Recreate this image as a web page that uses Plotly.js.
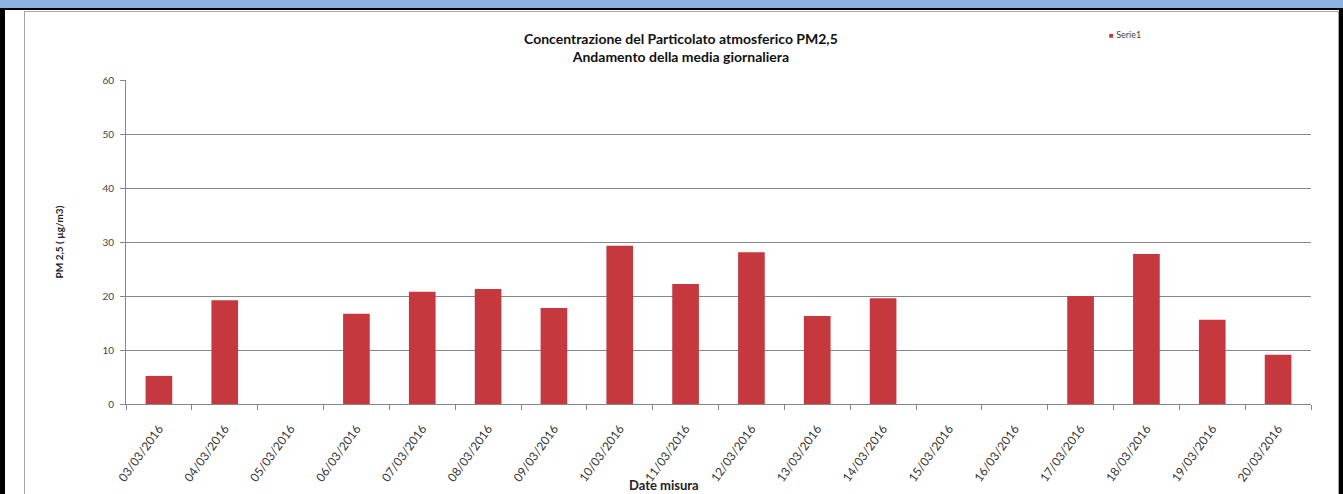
<!DOCTYPE html>
<html>
<head>
<meta charset="utf-8">
<script src="https://cdn.plot.ly/plotly-3.0.1.min.js"></script>
<style>
  html, body { margin: 0; padding: 0; width: 1343px; height: 494px; overflow: hidden; background: #fff; }
  .blk { position: absolute; }
  #chart { position: absolute; left: 0; top: 0; width: 1343px; height: 494px; }
</style>
</head>
<body>
<div class="blk" style="left:0;top:0;width:1343px;height:8px;background:#8DB3E2;"></div>
<div class="blk" style="left:0;top:8px;width:1343px;height:2px;background:#000;"></div>
<div class="blk" style="left:0;top:8px;width:5px;height:486px;background:#000;"></div>
<div class="blk" style="left:1339px;top:8px;width:4px;height:486px;background:#000;"></div>
<div class="blk" style="left:24px;top:11px;width:1313px;height:500px;border:1px solid #A6A6A6;"></div>
<div id="chart"></div>
<script>
const dates = ["03/03/2016","04/03/2016","05/03/2016","06/03/2016","07/03/2016","08/03/2016",
               "09/03/2016","10/03/2016","11/03/2016","12/03/2016","13/03/2016","14/03/2016",
               "15/03/2016","16/03/2016","17/03/2016","18/03/2016","19/03/2016","20/03/2016"];
const serie1 = [5.2, 19.2, null, 16.7, 20.8, 21.3, 17.8, 29.3, 22.2, 28.1, 16.3, 19.6,
                null, null, 20.0, 27.8, 15.6, 9.1];
const yTicks = [0, 10, 20, 30, 40, 50, 60];
const seriesName = 'Serie1';
const barColor = '#C4383E';

const trace = {
  type: 'bar',
  x: dates,
  y: serie1,
  name: seriesName,
  marker: { color: barColor, line: { width: 0 } },
  hoverinfo: 'x+y'
};

const layout = {
  width: 1343, height: 494,
  margin: { l: 126, r: 32, t: 80, b: 90 },
  paper_bgcolor: 'rgba(0,0,0,0)',
  plot_bgcolor: 'rgba(0,0,0,0)',
  bargap: 0.595,
  font: { family: 'Lato, "Open Sans", sans-serif', color: '#333' },
  title: {
    text: '<b>Concentrazione del Particolato atmosferico PM2,5</b><br><b>Andamento della media giornaliera</b>',
    font: { family: 'Lato, sans-serif', size: 14, color: '#111' },
    x: 0.507, xref: 'container', xanchor: 'center',
    y: 1 - 44/494, yref: 'container', yanchor: 'top'
  },
  xaxis: {
    type: 'category',
    categoryorder: 'array', categoryarray: dates,
    tickangle: -54,
    tickfont: { size: 12, color: '#333' },
    ticklabelstandoff: 12,
    ticks: 'outside', ticklen: 5, tickcolor: '#868686', tickson: 'boundaries',
    showline: true, linecolor: '#868686', linewidth: 1,
    showgrid: false, automargin: false, fixedrange: true
  },
  yaxis: {
    range: [0, 60],
    tickvals: yTicks,
    tickfont: { size: 10, color: '#444' },
    ticklabelstandoff: 4,
    ticks: 'outside', ticklen: 5, tickcolor: '#868686',
    showline: true, linecolor: '#868686', linewidth: 1,
    showgrid: true, gridcolor: '#868686', gridwidth: 1,
    zeroline: false, automargin: false, fixedrange: true,
    title: { text: '<b>PM 2,5 ( µg/m3)</b>', font: { size: 10, color: '#222' }, standoff: 36 }
  },
  showlegend: false,
  annotations: [{
    text: '<span style="color:' + barColor + ';font-size:8px">■</span> ' + seriesName,
    xref: 'paper', yref: 'paper',
    x: (1107 - 126) / 1185, y: (404 - 34) / 324,
    xanchor: 'left', yanchor: 'middle',
    showarrow: false,
    font: { size: 9, color: '#444' }
  }, {
    text: '<b>Date misura</b>',
    xref: 'paper', yref: 'paper',
    x: (664 - 126) / 1185, y: (404 - 485) / 324,
    xanchor: 'center', yanchor: 'middle',
    showarrow: false,
    font: { size: 13, color: '#222' }
  }]
};

Plotly.newPlot('chart', [trace], layout, { staticPlot: true, displayModeBar: false });
</script>
</body>
</html>
